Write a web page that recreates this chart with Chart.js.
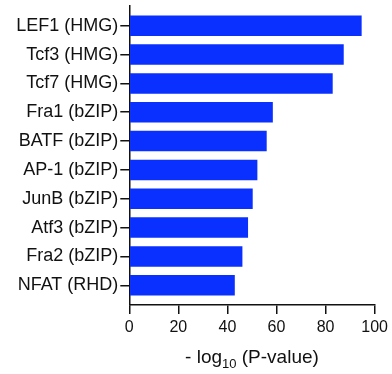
<!DOCTYPE html>
<html>
<head>
<meta charset="utf-8">
<script src="https://cdn.jsdelivr.net/npm/chart.js@4"></script>
<style>
html,body{margin:0;padding:0;background:#fff;}
#wrap{width:392px;height:374px;position:relative;}
</style>
</head>
<body>
<div id="wrap"><canvas id="c" width="392" height="374"></canvas></div>
<script>
const categories = ["LEF1 (HMG)", "Tcf3 (HMG)", "Tcf7 (HMG)", "Fra1 (bZIP)", "BATF (bZIP)", "AP-1 (bZIP)", "JunB (bZIP)", "Atf3 (bZIP)", "Fra2 (bZIP)", "NFAT (RHD)"];
const values = [94.7, 87.4, 82.9, 58.5, 56.0, 52.2, 50.3, 48.4, 46.1, 43.0];
const xTicks = [0, 20, 40, 60, 80, 100];
const titleMain = "- log";
const titleSub = "10";
const titleRest = " (P-value)";

const FONT = "'Liberation Sans', Arial, Helvetica, sans-serif";
const INK = "#111";

const titlePlugin = {
  id: 'subTitle',
  afterDraw(chart) {
    const ctx = chart.ctx;
    const xs = chart.scales.x;
    const cx = (xs.left + xs.right) / 2;
    const y = 362.5;
    ctx.save();
    ctx.fillStyle = INK;
    ctx.textBaseline = 'alphabetic';
    ctx.textAlign = 'left';
    const fMain = "19px " + FONT, fSub = "13px " + FONT;
    ctx.font = fMain; const w1 = ctx.measureText(titleMain).width; const w3 = ctx.measureText(titleRest).width;
    ctx.font = fSub; const w2 = ctx.measureText(titleSub).width;
    let x = cx - (w1 + w2 + w3) / 2;
    ctx.font = fMain; ctx.fillText(titleMain, x, y); x += w1;
    ctx.font = fSub; ctx.fillText(titleSub, x, y + 5.5); x += w2;
    ctx.font = fMain; ctx.fillText(titleRest, x, y);
    ctx.restore();
  }
};

const chart = new Chart(document.getElementById('c'), {
  type: 'bar',
  data: {
    datasets: [{
      data: values.map((v, i) => ({ x: v, y: i })),
      backgroundColor: '#0a30ff',
      borderWidth: 0,
      barPercentage: 0.9,
      categoryPercentage: 0.79
    }]
  },
  plugins: [titlePlugin],
  options: {
    indexAxis: 'y',
    responsive: false,
    animation: false,
    events: [],
    layout: { padding: { top: 6, right: 17, left: 0, bottom: 0 } },
    plugins: { legend: { display: false }, tooltip: { enabled: false }, title: { display: false } },
    scales: {
      x: {
        type: 'linear',
        min: 0, max: 100,
        offset: false,
        afterBuildTicks(scale) { scale.ticks = xTicks.map(v => ({ value: v })); },
        afterFit(scale) { scale.height = 69; },
        grid: { offset: false, drawOnChartArea: false, drawTicks: true, tickLength: 9, color: INK, lineWidth: 1.5 },
        border: { display: true, color: INK, width: 1.5 },
        ticks: { color: INK, font: { family: FONT, size: 16 }, padding: 4, maxRotation: 0 }
      },
      y: {
        type: 'linear',
        reverse: true,
        offset: false,
        min: -0.683, max: 9.683,
        afterBuildTicks(scale) { scale.ticks = categories.map((_, i) => ({ value: i })); },
        afterFit(scale) { scale.width = 129.3; scale.paddingTop = 0; scale.paddingBottom = 0; },
        grid: { offset: false, drawOnChartArea: false, drawTicks: true, tickLength: 9, color: INK, lineWidth: 1.5 },
        border: { display: true, color: INK, width: 1.5 },
        ticks: { color: INK, font: { family: FONT, size: 18 }, padding: 2, autoSkip: false,
          callback: (v) => categories[v] }
      }
    }
  }
});
</script>
</body>
</html>
